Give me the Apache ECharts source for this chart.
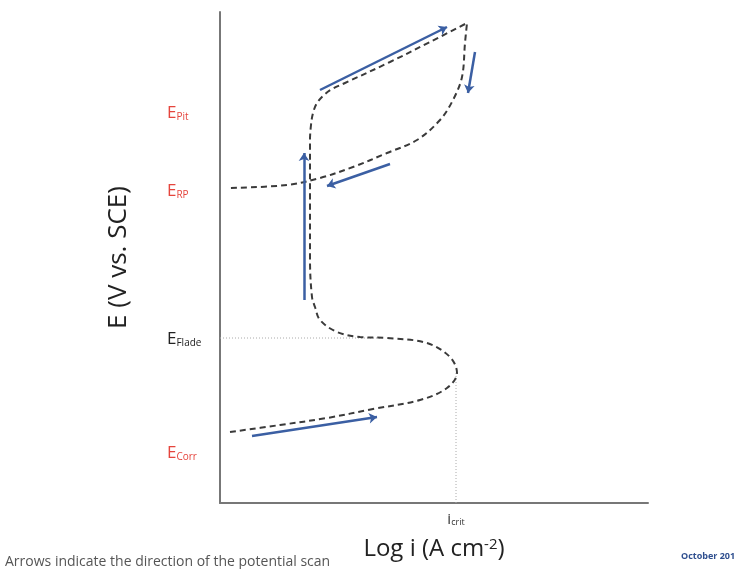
<!DOCTYPE html>
<html>
<head>
<meta charset="utf-8">
<script src="https://cdn.jsdelivr.net/npm/echarts@6/dist/echarts.min.js"></script>
<style>html,body{margin:0;padding:0;background:#fff}#c{width:734px;height:569px}</style>
</head>
<body>
<div id="c"></div>
<script>
// Schematic cyclic polarization curve (arbitrary log i / E units)
const curveX = [10,60,107,153,200,227,237,230,207,167,140,117,100,95,92,90,90,90,91,93,97,104,112,125,170,210,247,245,242,233,220,197,167,133,100,67,10];
const curveY = [71,78,85,94,103,115,130,146,160,165,166,171,183,196,206,243,303,363,378,390,400,408,414,420,441,461,480,460,426,403,383,363,350,336,325,318,315];
// Scan-direction arrows: [x0,y0,x1,y1]
const arrowStartX = [32,84,100,255,170];
const arrowStartY = [67,203,413,451,339];
const arrowEndX = [157,84,227,248,107];
const arrowEndY = [86,350,476,410,317];
// Potential tick labels
const eTickValues = [391,313,165,51];
const eTickNames = ['Pit','RP','Flade','Corr'];
const eTickRed = [true,true,false,true];
// Current tick label
const iTickValues = [236];
const iTickNames = ['crit'];
// Guide lines
const fladeE = 165, fladeEndX = 160;
const critI = 236, critTopE = 130;

const chart = echarts.init(document.getElementById('c'));
const FONT = 'Open Sans';
const curveData = curveX.map((x,i)=>[x,curveY[i]]);
const arrowData = arrowStartX.map((x,i)=>({coords:[[x,arrowStartY[i]],[arrowEndX[i],arrowEndY[i]]]}));

chart.setOption({
  animation:false,
  backgroundColor:'#fff',
  grid:{left:220,right:86,top:12,bottom:66},
  xAxis:{
    type:'value',min:0,max:428,
    axisLine:{show:true,lineStyle:{color:'#777',width:2}},
    axisTick:{show:false},splitLine:{show:false},
    axisLabel:{
      customValues:iTickValues,margin:6,
      formatter:(v)=>'{i|i}{s|'+iTickNames[iTickValues.indexOf(v)]+'}',
      rich:{
        i:{fontFamily:FONT,fontSize:15,color:'#333',lineHeight:18,verticalAlign:'bottom'},
        s:{fontFamily:FONT,fontSize:9,color:'#333',lineHeight:9,verticalAlign:'bottom'}
      }
    },
    name:'Log i (A cm{sup|-2})',nameLocation:'middle',nameGap:34,
    nameTextStyle:{fontFamily:FONT,fontSize:24,color:'#222',verticalAlign:'top',
      rich:{sup:{fontFamily:FONT,fontSize:15,color:'#222',verticalAlign:'top',lineHeight:16}}}
  },
  yAxis:{
    type:'value',min:0,max:491,
    axisLine:{show:true,lineStyle:{color:'#777',width:2}},
    axisTick:{show:false},splitLine:{show:false},
    axisLabel:{
      customValues:eTickValues,margin:53,align:'left',
      formatter:(v)=>{const k=eTickValues.indexOf(v);const r=eTickRed[k];
        return (r?'{er|E}{sr|':'{eb|E}{sb|')+eTickNames[k]+'}';},
      rich:{
        er:{fontFamily:FONT,fontSize:17,color:'#e5453d',lineHeight:20,verticalAlign:'bottom'},
        sr:{fontFamily:FONT,fontSize:10,color:'#e5453d',lineHeight:10,verticalAlign:'bottom'},
        eb:{fontFamily:FONT,fontSize:17,color:'#222',lineHeight:20,verticalAlign:'bottom'},
        sb:{fontFamily:FONT,fontSize:10,color:'#222',lineHeight:10,verticalAlign:'bottom'}
      }
    },
    name:'E (V vs. SCE)',nameLocation:'middle',nameGap:88,nameRotate:90,
    nameTextStyle:{fontFamily:FONT,fontSize:26,color:'#222'}
  },
  series:[
    {type:'line',data:curveData,smooth:0.35,showSymbol:false,symbol:'none',
     lineStyle:{color:'#3a3a3a',width:2,type:[6,4]},z:2},
    {type:'line',data:[[0,fladeE],[fladeEndX,fladeE]],showSymbol:false,symbol:'none',
     lineStyle:{color:'#aaa',width:1,type:[1,2]},z:1},
    {type:'line',data:[[critI,0],[critI,critTopE]],showSymbol:false,symbol:'none',
     lineStyle:{color:'#aaa',width:1,type:[1,2]},z:1},
    {type:'lines',coordinateSystem:'cartesian2d',data:arrowData,
     symbol:['none','arrow'],symbolSize:[0,8],
     lineStyle:{color:'#3b5fa3',width:2.5,opacity:1},z:3}
  ],
  graphic:[
    {type:'text',left:5,top:555,style:{text:'Arrows indicate the direction of the potential scan',
      fontFamily:FONT,fontSize:14,fill:'#555'}},
    {type:'text',left:681,top:552,style:{text:'October 2013',fontFamily:FONT,fontSize:9,fill:'#2f4f8f',fontWeight:'bold'}}
  ]
});
</script>
</body>
</html>
